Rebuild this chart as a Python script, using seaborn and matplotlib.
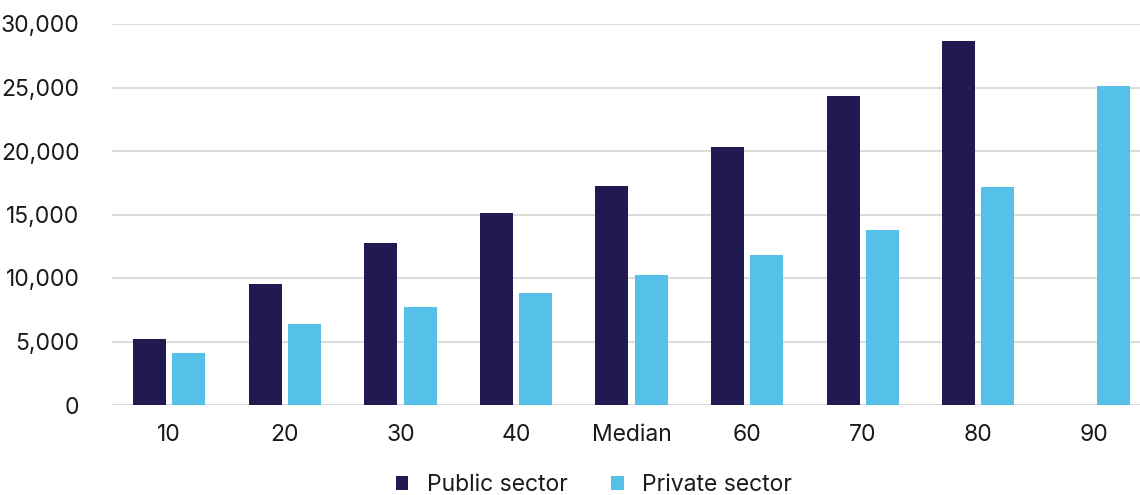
import numpy as np
import pandas as pd
import matplotlib
matplotlib.use("Agg")
import matplotlib.pyplot as plt
import seaborn as sns
from matplotlib.patches import Patch

# Percentile categories along the x axis
categories = ["10", "20", "30", "40", "Median", "60", "70", "80", "90"]
series_names = ["Public sector", "Private sector"]
public_values = [5200, 9550, 12750, 15100, 17250, 20350, 24300, 28700, np.nan]
private_values = [4100, 6400, 7700, 8800, 10200, 11850, 13750, 17200, 25150]
y_ticks = [0, 5000, 10000, 15000, 20000, 25000, 30000]

colors = {"Public sector": "#211a52", "Private sector": "#56c1e8"}

df = pd.DataFrame({
    "category": categories * 2,
    "sector": [series_names[0]] * len(categories) + [series_names[1]] * len(categories),
    "value": public_values + private_values,
})

sns.set_theme(style="white")
plt.rcParams["font.family"] = ["Inter", "DejaVu Sans"]

fig = plt.figure(figsize=(11.4, 4.95), dpi=100)
ax = fig.add_axes([111.5 / 1140, 90 / 495, 1 - 111.5 / 1140, (405 - 24) / 495])

sns.barplot(
    data=df, x="category", y="value", hue="sector",
    order=categories, hue_order=series_names, palette=colors,
    saturation=1, width=0.68, gap=0.16, ax=ax, legend=False, errorbar=None,
    edgecolor="none", zorder=3,
)

ax.set_xlim(-0.5, 8.4)
ax.set_ylim(0, 30000)
ax.set_yticks(y_ticks)
ax.set_yticklabels([f"{v:,}" for v in y_ticks])
ax.set_xlabel("")
ax.set_ylabel("")
ax.grid(axis="y", color="#dcdcdc", linewidth=1.5, zorder=0)
ax.grid(axis="x", visible=False)
for s in ax.spines.values():
    s.set_visible(False)
ax.tick_params(axis="y", length=0, pad=23, labelsize=16.5, labelcolor="#1a1a1a")
ax.tick_params(axis="x", length=0, pad=14, labelsize=16.5, labelcolor="#1a1a1a")
for lbl in ax.get_yticklabels():
    lbl.set_clip_on(False)

handles = [Patch(facecolor=colors[n], edgecolor="none", label=n) for n in series_names]
fig.legend(
    handles=handles, loc="center", bbox_to_anchor=(594 / 1140, 1 - 485 / 495),
    ncol=2, frameon=False, fontsize=16.5, handlelength=0.55, handleheight=0.55,
    handletextpad=0.8, columnspacing=1.9, labelcolor="#1a1a1a",
)

fig.savefig("out.png", dpi=100)
